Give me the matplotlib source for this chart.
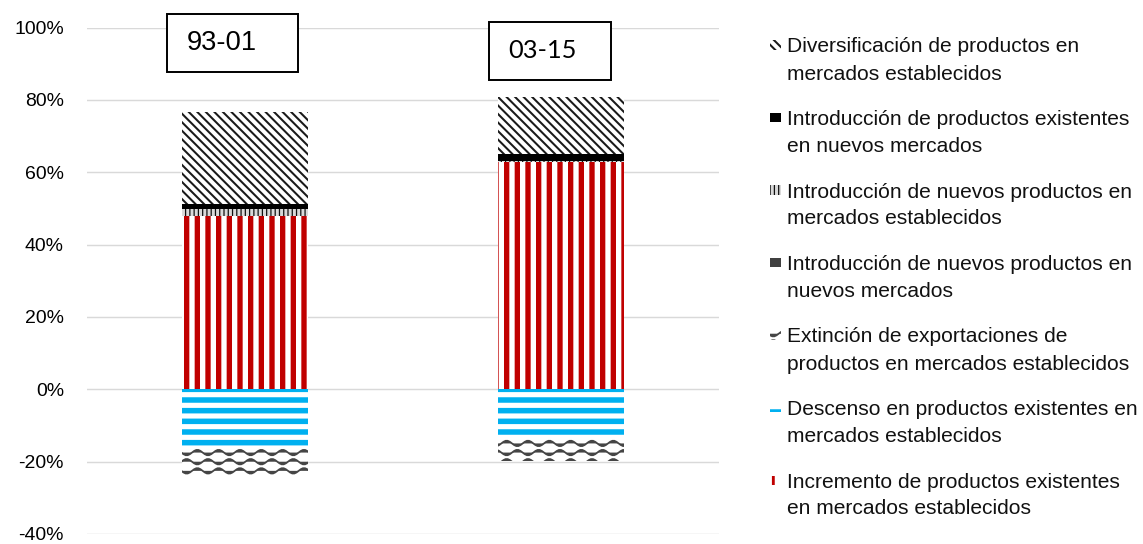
import warnings
import numpy as np
import matplotlib
matplotlib.use("Agg")
import matplotlib.pyplot as plt
from matplotlib import hatch as mhatch
from matplotlib.patches import Rectangle
from matplotlib.path import Path

warnings.filterwarnings("ignore")

# ---------------- data ----------------
periods = ["93-01", "03-15"]
incremento = [47.8, 62.7]
descenso = [-16.6, -13.6]
extincion = [-7.5, -6.1]
nuevos_nuevos = [0.2, 0.1]
nuevos_establecidos = [1.8, 0.3]
existentes_nuevos = [1.4, 1.9]
diversificacion = [25.4, 15.7]
yticks = [-40, -20, 0, 20, 40, 60, 80, 100]

lab_div = "Diversificación de productos en\nmercados establecidos"
lab_exn = "Introducción de productos existentes\nen nuevos mercados"
lab_nue = "Introducción de nuevos productos en\nmercados establecidos"
lab_nnn = "Introducción de nuevos productos en\nnuevos mercados"
lab_ext = "Extinción de exportaciones de\nproductos en mercados establecidos"
lab_des = "Descenso en productos existentes en\nmercados establecidos"
lab_inc = "Incremento de productos existentes\nen mercados establecidos"


# ------------- custom wavy hatch -------------
class WaveHatch(mhatch.HatchPatternBase):
    def __init__(self, hatch, density):
        self.num_lines = int(hatch.count("~") * density * 0.8)
        self.npts = 61
        self.num_vertices = self.num_lines * self.npts

    def set_vertices_and_codes(self, vertices, codes):
        n = self.num_lines
        xs = np.linspace(0, 1, self.npts)
        for i in range(n):
            y0 = (i + 0.5) / n
            ys = y0 + 0.3 / n * np.sin(2 * np.pi * 6 * xs + np.pi * (i % 2))
            s = slice(i * self.npts, (i + 1) * self.npts)
            vertices[s, 0] = xs
            vertices[s, 1] = ys
            codes[s] = Path.LINETO
            codes[i * self.npts] = Path.MOVETO


mhatch._hatch_types.append(WaveHatch)

W, H, DPI = 1143, 544, 128
plt.rcParams["font.family"] = ["Liberation Sans", "DejaVu Sans"]

fig = plt.figure(figsize=(W / DPI, H / DPI), dpi=DPI)


def fx(px):
    return px / W


def fy(py):
    return 1 - py / H


ax_left, ax_right, ax_top, ax_bot = 87, 719, 27.5, 534
ax = fig.add_axes([fx(ax_left), fy(ax_bot), (ax_right - ax_left) / W,
                   (ax_bot - ax_top) / H])

x = np.arange(len(periods))
bw = 0.4

# style: (face, edge/hatch colour, hatch, hatch lw in pt)
st = {
    "inc": ("white", "#C00000", "||", 3.0),
    "des": ("white", "#00B0F0", "--", 3.1),
    "ext": ("white", "#454545", "~~~", 1.0),
    "nnn": ("#404040", "#404040", None, 0.5),
    "nue": ("#d9d9d9", "#111111", "|||||", 0.7),
    "exn": ("black", "black", None, 0.5),
    "div": ("white", "#1a1a1a", "\\\\\\\\\\", 1.15),
}


def styled_bar(key, xs, vals, bottom):
    face, edge, hatch, hlw = st[key]
    with plt.rc_context({"hatch.linewidth": hlw}):
        bars = ax.bar(xs, vals, bw, bottom=bottom, color=face,
                      edgecolor=edge, hatch=hatch, linewidth=0, zorder=3)
    for b in bars:
        if hasattr(b, "set_hatch_linewidth"):
            b.set_hatch_linewidth(hlw)
    return bars


pos = np.zeros(len(periods))
for key, vals in [("inc", incremento), ("nnn", nuevos_nuevos),
                  ("nue", nuevos_establecidos), ("exn", existentes_nuevos),
                  ("div", diversificacion)]:
    styled_bar(key, x, vals, pos)
    pos = pos + np.array(vals)

neg = np.zeros(len(periods))
for key, vals in [("des", descenso), ("ext", extincion)]:
    styled_bar(key, x, vals, neg)
    neg = neg + np.array(vals)

ax.set_xlim(-0.5, 1.5)
ax.set_ylim(-40, 100)
ax.set_yticks(yticks)
ax.set_yticklabels([f"{v}%" for v in yticks], fontsize=10.9)
ax.tick_params(axis="y", length=0, pad=13)
ax.set_xticks([])
ax.yaxis.grid(True, color="#D9D9D9", linewidth=0.8, zorder=0)
ax.set_axisbelow(True)
for sp in ax.spines.values():
    sp.set_visible(False)

# ---------- period labels in boxes ----------
boxes = [(167, 14, 298, 72, 187, "Liberation Sans", 15.4),
         (489, 22, 611, 80, 508, "Lato", 14.3)]
for (l, t, r, b, tx, fam, fs), txt in zip(boxes, periods):
    fig.add_artist(Rectangle((fx(l), fy(b)), (r - l) / W, (b - t) / H,
                             transform=fig.transFigure, facecolor="white",
                             edgecolor="black", linewidth=1.1, zorder=5))
    fig.text(fx(tx), fy((t + b) / 2), txt, ha="left", va="center",
             fontsize=fs, family=[fam, "DejaVu Sans"], zorder=6)

# ---------- legend (manual) ----------
legend_items = [("div", lab_div), ("exn", lab_exn), ("nue", lab_nue),
                ("nnn", lab_nnn), ("ext", lab_ext), ("des", lab_des),
                ("inc", lab_inc)]
for i, (key, lab) in enumerate(legend_items):
    yc = 45 + 72.5 * i
    face, edge, hatch, hlw = st[key]
    hl = min(hlw, 1.6)
    with plt.rc_context({"hatch.linewidth": hl}):
        r = Rectangle((fx(770), fy(yc + 4.5)), 11 / W, 9 / H,
                      transform=fig.transFigure, facecolor=face,
                      edgecolor=edge, hatch=hatch, linewidth=0)
    if hasattr(r, "set_hatch_linewidth"):
        r.set_hatch_linewidth(hl)
    fig.add_artist(r)
    for j, line in enumerate(lab.split("\n")):
        fig.text(fx(787), fy(yc + 7.5 + 27 * j), line, ha="left",
                 va="baseline", fontsize=11.8, color="#111111")

fig.savefig("out.png", dpi=DPI)
